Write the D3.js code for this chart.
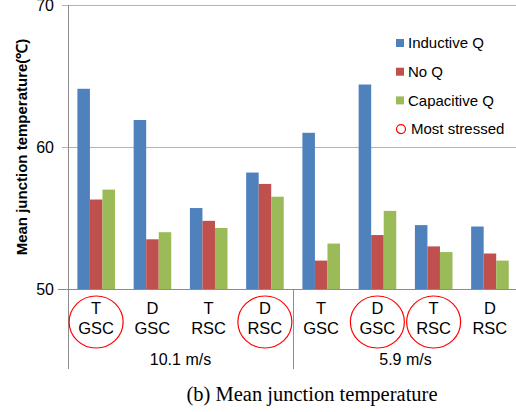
<!DOCTYPE html>
<html>
  <body style="margin:0">
    <style>
      body { background: #fff; }
      text { font-family: "Liberation Sans", Arial, sans-serif; fill: #000; }
    </style>
    <script src="https://d3js.org/d3.v7.min.js"></script>
    <script type="text/javascript">
      const width = 516;
      const height = 412;

      // data
      const sites = ['T', 'D', 'T', 'D', 'T', 'D', 'T', 'D'];
      const converters = ['GSC', 'GSC', 'RSC', 'RSC', 'GSC', 'GSC', 'RSC', 'RSC'];
      const windSpeeds = ['10.1 m/s', '5.9 m/s'];
      const stressed = [true, false, false, true, false, true, true, false];
      const seriesNames = ['Inductive Q', 'No Q', 'Capacitive Q'];
      const inductiveQ = [64.1, 61.9, 55.7, 58.2, 61.0, 64.4, 54.5, 54.4];
      const noQ = [56.3, 53.5, 54.8, 57.4, 52.0, 53.8, 53.0, 52.5];
      const capacitiveQ = [57.0, 54.0, 54.3, 56.5, 53.2, 55.5, 52.6, 52.0];
      const yTicks = [50, 60, 70];

      const colors = ['#4F81BD', '#C0504D', '#9BBB59'];
      const seriesValues = [inductiveQ, noQ, capacitiveQ];
      const catIds = sites.map((d, i) => i);

      const plotLeft = 68, plotRight = 518, plotTop = 5, plotBottom = 289;

      const svg = d3.select('body').append('svg')
        .attr('width', width)
        .attr('height', height);

      const x0 = d3.scaleBand().domain(catIds).range([plotLeft, plotRight]);
      const x1 = d3.scaleBand().domain(seriesNames).range([9.4, 47]);
      const xGroup = d3.scaleBand().domain(windSpeeds).range([plotLeft, plotRight]);
      const y = d3.scaleLinear().domain([50, 70]).range([plotBottom, plotTop]);

      // gridlines (with the small outside tick)
      svg.append('g')
        .selectAll('line')
        .data(yTicks.filter(t => t > 50))
        .join('line')
        .attr('x1', plotLeft - 6)
        .attr('x2', width)
        .attr('y1', d => y(d) + 0.5)
        .attr('y2', d => y(d) + 0.5)
        .attr('stroke', '#b3b3b3');

      // bars
      svg.append('g')
        .selectAll('g')
        .data(catIds)
        .join('g')
        .attr('transform', d => `translate(${x0(d)},0)`)
        .selectAll('rect')
        .data(i => seriesNames.map((s, k) => ({ s, k, v: seriesValues[k][i] })))
        .join('rect')
        .attr('x', d => x1(d.s))
        .attr('y', d => y(d.v))
        .attr('width', x1.bandwidth())
        .attr('height', d => y(50) - y(d.v))
        .attr('fill', d => colors[d.k]);

      // axes lines
      svg.append('line')
        .attr('x1', plotLeft + 0.5).attr('x2', plotLeft + 0.5)
        .attr('y1', plotTop).attr('y2', 369)
        .attr('stroke', '#8c8c8c');
      svg.append('line')
        .attr('x1', plotLeft - 10).attr('x2', width)
        .attr('y1', plotBottom + 0.5).attr('y2', plotBottom + 0.5)
        .attr('stroke', '#8c8c8c');
      svg.append('g')
        .selectAll('line')
        .data(windSpeeds.slice(1))
        .join('line')
        .attr('x1', d => xGroup(d) + 0.5).attr('x2', d => xGroup(d) + 0.5)
        .attr('y1', plotBottom).attr('y2', 369)
        .attr('stroke', '#8c8c8c');

      // y tick labels
      svg.append('g')
        .selectAll('text')
        .data(yTicks)
        .join('text')
        .attr('x', 54)
        .attr('y', d => y(d))
        .attr('dy', '0.35em')
        .attr('text-anchor', 'end')
        .style('font-size', '16px')
        .text(d => d);

      // y label
      svg.append('text')
        .attr('transform', `translate(27,${(plotTop + plotBottom) / 2}) rotate(-90)`)
        .attr('text-anchor', 'middle')
        .style('font-size', '15px')
        .style('font-weight', 'bold')
        .text('Mean junction temperature(\u2103)');

      // category labels
      const cat = svg.append('g')
        .selectAll('g')
        .data(catIds)
        .join('g')
        .attr('transform', d => `translate(${x0(d) + x0.bandwidth() / 2},0)`);
      cat.append('text')
        .attr('y', 314)
        .attr('text-anchor', 'middle')
        .style('font-size', '16.5px')
        .text(d => sites[d]);
      cat.append('text')
        .attr('y', 334)
        .attr('text-anchor', 'middle')
        .style('font-size', '16.5px')
        .text(d => converters[d]);
      cat.filter(d => stressed[d])
        .append('ellipse')
        .attr('cy', 322)
        .attr('rx', 27)
        .attr('ry', 26)
        .attr('fill', 'none')
        .attr('stroke', '#ff0000')
        .attr('stroke-width', 1.2);

      // wind speed labels
      svg.append('g')
        .selectAll('text')
        .data(windSpeeds)
        .join('text')
        .attr('x', d => xGroup(d) + xGroup.bandwidth() / 2)
        .attr('y', 365)
        .attr('text-anchor', 'middle')
        .style('font-size', '16px')
        .text(d => d);

      // legend
      const legend = svg.append('g').attr('transform', 'translate(396,43)');
      const items = legend.selectAll('g')
        .data(seriesNames.concat(['Most stressed']))
        .join('g')
        .attr('transform', (d, i) => `translate(0,${i * 28.7})`);
      items.filter((d, i) => i < 3)
        .append('rect')
        .attr('x', 0).attr('y', -4)
        .attr('width', 8).attr('height', 8)
        .attr('fill', (d, i) => colors[i]);
      items.filter((d, i) => i === 3)
        .append('circle')
        .attr('cx', 5).attr('cy', 0).attr('r', 4.5)
        .attr('fill', 'none')
        .attr('stroke', '#ff0000')
        .attr('stroke-width', 1.2);
      items.append('text')
        .attr('x', (d, i) => i < 3 ? 12 : 15)
        .attr('dy', '0.35em')
        .style('font-size', '15px')
        .text(d => d);

      // caption
      svg.append('text')
        .attr('x', 312)
        .attr('y', 401)
        .attr('text-anchor', 'middle')
        .style('font-family', '"Liberation Serif", "Times New Roman", serif')
        .style('font-size', '20.5px')
        .text('(b) Mean junction temperature');
    </script>
  </body>
</html>
